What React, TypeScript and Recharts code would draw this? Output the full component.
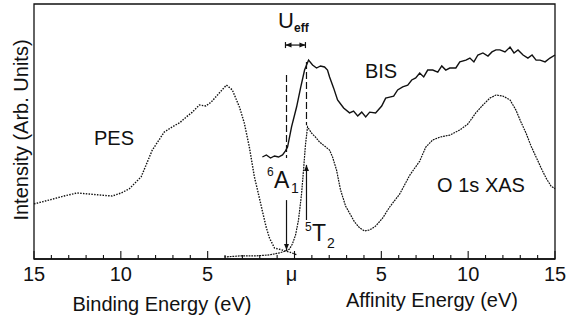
import { LineChart, Line, XAxis, YAxis, ReferenceLine, ReferenceArea } from "recharts";

// PES (binding side, plotted as negative energy)
const pesEnergy = [-15.0, -14.14, -13.27, -12.52, -11.83, -11.25, -10.5, -9.98, -9.52, -8.83, -8.19, -7.5, -7.04, -6.6, -6.23, -5.9, -5.48, -5.1, -4.79, -4.33, -3.92, -3.58, -3.17, -2.89, -2.6, -2.31, -2.13, -1.85, -1.62, -1.44, -1.15, -0.69, -0.29, 0.17];
const pesIntensity = [21.6, 23.1, 24.7, 25.9, 25.5, 25.1, 24.7, 25.9, 27.5, 32.2, 42.7, 49.8, 51.8, 53.5, 55.7, 57.5, 60.4, 60.0, 61.6, 65.1, 68.2, 66.3, 59.6, 53.3, 43.9, 32.2, 27.1, 18.8, 12.2, 8.2, 4.3, 3.5, 2.7, 1.6];

// BIS
const bisEnergy = [-1.85, -1.62, -1.38, -1.15, -0.92, -0.69, -0.52, -0.4, -0.17, 0.12, 0.35, 0.58, 0.81, 1.04, 1.27, 1.5, 1.73, 1.9, 2.02, 2.25, 2.48, 2.83, 3.17, 3.4, 3.64, 3.87, 4.1, 4.33, 4.67, 5.02, 5.25, 5.48, 5.71, 5.94, 6.23, 6.52, 6.75, 6.98, 7.21, 7.44, 7.67, 7.96, 8.25, 8.48, 8.71, 8.94, 9.29, 9.52, 9.87, 10.1, 10.33, 10.56, 10.85, 11.14, 11.37, 11.6, 11.83, 12.12, 12.41, 12.64, 12.87, 13.16, 13.44, 13.68, 13.91, 14.14, 14.43, 14.71, 15.0];
const bisIntensity = [40.0, 40.8, 39.6, 40.4, 40.0, 40.8, 42.4, 43.9, 51.8, 59.6, 67.1, 74.1, 78.0, 76.1, 74.9, 75.7, 75.3, 74.1, 71.4, 67.1, 62.4, 59.2, 57.3, 58.0, 56.1, 57.6, 55.7, 57.6, 57.3, 60.0, 63.1, 63.5, 63.9, 66.3, 67.5, 68.2, 70.2, 71.0, 72.9, 71.4, 74.1, 74.1, 73.3, 75.7, 74.1, 74.9, 74.9, 77.3, 78.0, 78.8, 77.3, 80.0, 80.8, 79.6, 81.2, 82.0, 82.0, 81.2, 83.1, 80.8, 82.0, 80.0, 78.8, 80.0, 78.0, 78.0, 77.3, 78.8, 80.0];

// O 1s XAS
const xasEnergy = [-4.04, -3.17, -2.31, -1.44, -0.87, -0.52, -0.29, -0.12, 0.06, 0.23, 0.4, 0.52, 0.63, 0.75, 0.98, 1.21, 1.44, 1.73, 2.02, 2.19, 2.42, 2.65, 2.94, 3.17, 3.46, 3.75, 4.04, 4.33, 4.67, 5.08, 5.48, 6.06, 6.64, 7.21, 7.56, 7.96, 8.37, 8.94, 9.52, 9.98, 10.44, 10.85, 11.25, 11.6, 12.0, 12.41, 12.75, 13.04, 13.33, 13.62, 13.91, 14.2, 14.48, 14.77, 15.0];
const xasIntensity = [0.8, 1.2, 1.2, 1.6, 2.4, 3.1, 3.9, 5.9, 9.4, 15.3, 25.1, 34.9, 44.7, 51.8, 49.4, 47.8, 45.9, 44.3, 42.7, 40.0, 34.9, 27.1, 20.8, 18.0, 14.5, 12.2, 11.0, 11.4, 12.9, 16.1, 20.4, 25.5, 32.9, 38.4, 43.9, 46.7, 47.8, 48.6, 50.6, 52.9, 57.3, 60.4, 63.1, 64.3, 63.9, 62.4, 58.4, 53.7, 49.4, 44.3, 40.0, 35.7, 31.8, 28.6, 27.5];

const axisTicks = [-15, -14, -13, -12, -11, -10, -9, -8, -7, -6, -5, -4, -3, -2, -1, 0, 1, 2, 3, 4, 5, 6, 7, 8, 9, 10, 11, 12, 13, 14, 15];

const zip = (e: number[], v: number[]) => e.map((x, i) => ({ e: x, v: v[i] }));
const pesData = zip(pesEnergy, pesIntensity);
const bisData = zip(bisEnergy, bisIntensity);
const xasData = zip(xasEnergy, xasIntensity);

const INK = "#111";
const FONT = "'Liberation Sans', Arial, Helvetica, sans-serif";

const EnergyTick = (props: any) => {
  const { x, y, payload } = props;
  const v = payload.value as number;
  const major = v % 5 === 0;
  return (
    <g>
      <line x1={x} x2={x} y1={y} y2={y - (major ? 8 : 4)} stroke={INK} strokeWidth={1.1} />
      {major && (
        <text x={v === 0 ? x - 3 : x} y={y + 22} textAnchor="middle" fontSize={20} fontFamily={FONT} fill={INK}>
          {v === 0 ? "\u03bc" : Math.abs(v)}
        </text>
      )}
    </g>
  );
};

const arrowShape = (dir: "up" | "down" | "both", bars = false) => (p: any) => {
  const { x1, y1, x2, y2 } = p;
  const horiz = Math.abs(y2 - y1) < 1;
  const head = (tx: number, ty: number, ux: number, uy: number) => {
    const l = 6, w = 2.5;
    const bx = tx - ux * l, by = ty - uy * l;
    return <polygon points={`${tx},${ty} ${bx - uy * w},${by + ux * w} ${bx + uy * w},${by - ux * w}`} fill={INK} />;
  };
  const len = Math.hypot(x2 - x1, y2 - y1) || 1;
  const ux = (x2 - x1) / len, uy = (y2 - y1) / len;
  return (
    <g>
      <line x1={x1} y1={y1} x2={x2} y2={y2} stroke={INK} strokeWidth={1.2} />
      {head(x2, y2, ux, uy)}
      {dir === "both" && head(x1, y1, -ux, -uy)}
      {bars && horiz && (
        <>
          <line x1={x1} x2={x1} y1={y1 - 3} y2={y1 + 3} stroke={INK} strokeWidth={1.2} />
          <line x1={x2} x2={x2} y1={y2 - 3} y2={y2 + 3} stroke={INK} strokeWidth={1.2} />
        </>
      )}
    </g>
  );
};

export default function App() {
  const txt = { fontFamily: FONT, fill: INK };
  return (
    <div style={{ position: "absolute", left: 0, top: 0, width: 566, height: 322, background: "#fff" }}>
      <LineChart width={566} height={322} margin={{ top: 4, right: 11, bottom: 33, left: 34 }}>
        <XAxis
          xAxisId="b"
          type="number"
          dataKey="e"
          domain={[-15, 15]}
          ticks={axisTicks}
          interval={0}
          allowDuplicatedCategory={false}
          height={30}
          tickSize={0}
          tickMargin={0}
          tick={<EnergyTick />}
          tickLine={false}
          axisLine={{ stroke: INK, strokeWidth: 1.3 }}
        />
        <YAxis yAxisId="l" type="number" domain={[0, 100]} width={0} tick={false} tickLine={false} axisLine={{ stroke: INK, strokeWidth: 1.3 }} />

        {/* plot frame */}
        <ReferenceArea xAxisId="b" yAxisId="l" x1={-15} x2={15} y1={0} y2={100} fill="none" stroke={INK} strokeWidth={1.3} />

        <Line xAxisId="b" yAxisId="l" data={pesData} dataKey="v" type="linear" stroke={INK} strokeWidth={1.4} strokeDasharray="1.5 1.3" dot={false} isAnimationActive={false} />
        <Line xAxisId="b" yAxisId="l" data={xasData} dataKey="v" type="linear" stroke={INK} strokeWidth={1.2} strokeDasharray="1.8 0.9" dot={false} isAnimationActive={false} />
        <Line xAxisId="b" yAxisId="l" data={bisData} dataKey="v" type="linear" stroke={INK} strokeWidth={1.4} dot={false} isAnimationActive={false} />

        {/* dashed guides at the 6A1 and 5T2 edges */}
        <ReferenceLine xAxisId="b" yAxisId="l" segment={[{ x: -0.46, y: 72.2 }, { x: -0.46, y: 39.6 }]} stroke={INK} strokeWidth={1.2} strokeDasharray="7 3" />
        <ReferenceLine xAxisId="b" yAxisId="l" segment={[{ x: 0.69, y: 77.3 }, { x: 0.69, y: 52.5 }]} stroke={INK} strokeWidth={1.2} strokeDasharray="7 3" />
        {/* Ueff double arrow */}
        <ReferenceLine xAxisId="b" yAxisId="l" segment={[{ x: -0.52, y: 83.9 }, { x: 0.63, y: 83.9 }]} shape={arrowShape("both", true)} />
        {/* transition arrows */}
        <ReferenceLine xAxisId="b" yAxisId="l" segment={[{ x: -0.46, y: 23.1 }, { x: -0.46, y: 3.5 }]} shape={arrowShape("down")} />
        <ReferenceLine xAxisId="b" yAxisId="l" segment={[{ x: 0.69, y: 15.3 }, { x: 0.69, y: 36.9 }]} shape={arrowShape("up")} />
      </LineChart>

      <svg width={566} height={322} style={{ position: "absolute", left: 0, top: 0, pointerEvents: "none" }}>
        <text {...txt} x={114} y={145} fontSize={20} textAnchor="middle">PES</text>
        <text {...txt} x={381} y={78} fontSize={20} textAnchor="middle">BIS</text>
        <text {...txt} x={481} y={192} fontSize={20} textAnchor="middle">O 1s XAS</text>

        <text {...txt} x={278} y={28} fontSize={22}>U</text>
        <text {...txt} x={294} y={32} fontSize={12} fontWeight="bold">eff</text>

        <text {...txt} x={267} y={176} fontSize={12}>6</text>
        <text {...txt} x={274} y={188} fontSize={23}>A</text>
        <text {...txt} x={291} y={193} fontSize={14} fill={INK}>1</text>

        <text {...txt} x={305} y={231} fontSize={12}>5</text>
        <text {...txt} x={312} y={241} fontSize={23}>T</text>
        <text {...txt} x={327} y={248} fontSize={14}>2</text>

        <text {...txt} x={162} y={311} fontSize={20} textAnchor="middle">Binding Energy (eV)</text>
        <text {...txt} x={432} y={307} fontSize={20} textAnchor="middle">Affinity Energy (eV)</text>
        <text {...txt} x={0} y={0} fontSize={20} textAnchor="middle" transform="translate(28,130) rotate(-90)">
          Intensity (Arb. Units)
        </text>
      </svg>
    </div>
  );
}
